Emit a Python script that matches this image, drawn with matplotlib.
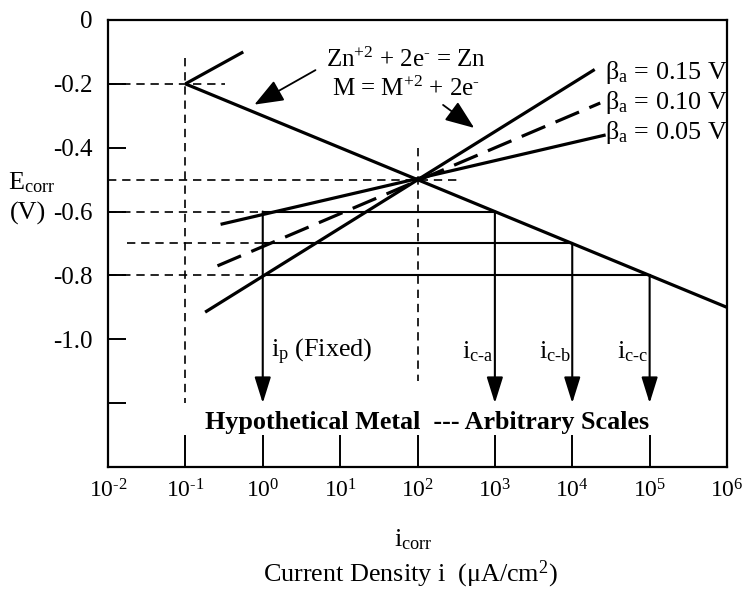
import numpy as np
import matplotlib.pyplot as plt

plt.rcParams['font.family'] = ['Liberation Serif', 'DejaVu Serif']
plt.rcParams['mathtext.fontset'] = 'custom'
plt.rcParams['mathtext.rm'] = 'Liberation Serif'
plt.rcParams['mathtext.it'] = 'Liberation Serif:italic'
plt.rcParams['mathtext.bf'] = 'Liberation Serif:bold'

# Zn reduction line (Zn+2 + 2e- = Zn) and short Zn oxidation branch
zn_cath_i = [1e-1, 1e6]
zn_cath_e = [-0.2, -0.9]
zn_anod_i = [1e-1, 0.56]
zn_anod_e = [-0.2, -0.1]

# metal oxidation lines (M = M+2 + 2e-) for three Tafel slopes
beta_labels = ['0.15', '0.10', '0.05']
beta_i = [[0.18, 1.95e4], [0.26, 2.3e4], [0.285, 2.7e4]]
beta_e = [[-0.915, -0.155], [-0.77, -0.26], [-0.64, -0.36]]
beta_styles = ['-', '--', '-']
beta_label_e = [-0.163, -0.257, -0.352]

# corrosion potentials and currents
e_levels = [-0.6, -0.7, -0.8]
ic_vals = [1e3, 1e4, 1e5]
ic_names = ['c‐a', 'c‐b', 'c‐c']
ip_val = 1e0
i_corr = 1e2
e_corr = -0.5
e_zn = -0.2
i0_zn = 1e-1

xticks = [1e-2, 1e-1, 1e0, 1e1, 1e2, 1e3, 1e4, 1e5, 1e6]
xtick_labels = ['10$^{‐2}$', '10$^{‐1}$', '10$^{0}$', '10$^{1}$', '10$^{2}$',
                '10$^{3}$', '10$^{4}$', '10$^{5}$', '10$^{6}$']
yticks = [0, -0.2, -0.4, -0.6, -0.8, -1.0, -1.2, -1.4]
ytick_labels = ['0', '-0.2', '-0.4', '-0.6', '-0.8', '-1.0', '', '']

fs = 18.8

fig = plt.figure(figsize=(7.42, 5.92), dpi=100)
ax = fig.add_axes([108/742, 1-467/592, (727-108)/742, (467-20)/592])
ax.set_xscale('log')
ax.set_xlim(1e-2, 1e6)
ax.set_ylim(-1.4, 0)

guide = dict(color='k', lw=1.2, ls=(0, (5, 3.5)))

# dashed guide lines
ax.plot([1e-2, 0.33], [e_zn, e_zn], **guide)
ax.plot([i0_zn, i0_zn], [-0.12, -1.2], **guide)
ax.plot([i_corr, i_corr], [-0.4, -1.13], **guide)
ax.plot([1e-2, 340], [e_corr, e_corr], **guide)
ax.plot([1e-2, ip_val], [e_levels[0], e_levels[0]], **guide)
ax.plot([10**-1.75, ip_val], [e_levels[1], e_levels[1]], **guide)
ax.plot([1e-2, ip_val], [e_levels[2], e_levels[2]], **guide)

# solid potential levels up to each corrosion current
for e, ic in zip(e_levels, ic_vals):
    ax.plot([ip_val, ic], [e, e], color='k', lw=1.5)

# Zn lines
ax.plot(zn_cath_i, zn_cath_e, color='k', lw=2.3, solid_capstyle='butt')
ax.plot(zn_anod_i, zn_anod_e, color='k', lw=2.3, solid_capstyle='butt')

# anodic lines
for bi, be, st, lab, le in zip(beta_i, beta_e, beta_styles, beta_labels, beta_label_e):
    if st == '--':
        ax.plot(bi, be, color='k', lw=2.3, ls=(0, (8, 3.5)), dash_capstyle='butt')
    else:
        ax.plot(bi, be, color='k', lw=2.3, solid_capstyle='butt')
    ax.text(10**4.42, le, r'β$_\mathrm{a}$ = ' + lab + ' V', fontsize=fs,
            ha='left', va='center')

# down arrows to current axis
arrow_style = dict(arrowstyle='-|>,head_length=0.8,head_width=0.25',
                   mutation_scale=20, color='k', lw=1.5, shrinkA=0, shrinkB=0)
ax.annotate('', xy=(ip_val, -1.2), xytext=(ip_val, e_levels[0]), arrowprops=arrow_style)
for e, ic, name in zip(e_levels, ic_vals, ic_names):
    ax.annotate('', xy=(ic, -1.2), xytext=(ic, e), arrowprops=arrow_style)
    ax.annotate('i$_\\mathrm{' + name + '}$', xy=(ic, -1.04), xytext=(-1, 0),
                textcoords='offset points', ha='right', va='center', fontsize=fs)
ax.annotate('i$_\\mathrm{p}$ (Fixed)', xy=(ip_val, -1.04), xytext=(6, 0),
            textcoords='offset points', ha='left', va='center', fontsize=fs)

# reaction labels with arrows
ax.text(71, -0.125, 'Zn$^{+2}$ + 2e$^{‐}$ = Zn', fontsize=18, ha='center', va='center')
ax.text(71, -0.215, 'M = M$^{+2}$ + 2e$^{‐}$', fontsize=18, ha='center', va='center')
head = dict(arrowstyle='-|>,head_length=0.9,head_width=0.35', mutation_scale=20,
            color='k', lw=1.3, shrinkA=0, shrinkB=0)
ax.annotate('', xy=(0.78, -0.265), xytext=(4.8, -0.157), arrowprops=head)
ax.annotate('', xy=(540, -0.338), xytext=(214, -0.266), arrowprops=head)

ax.text(10**2.12, -1.262, 'Hypothetical Metal  --- Arbitrary Scales', fontsize=fs,
        fontweight='bold', ha='center', va='center')

# axes styling
ax.set_xticks(xticks)
ax.set_xticklabels(xtick_labels)
ax.set_yticks(yticks)
ax.set_yticklabels(ytick_labels)
ax.minorticks_off()
ax.tick_params(axis='y', direction='in', length=13, width=1.4, pad=11, labelsize=18)
ax.tick_params(axis='x', direction='in', length=23, width=1.4, pad=9, labelsize=17)
for sp in ax.spines.values():
    sp.set_linewidth(1.6)

fig.text(8/742, 1-183/592, 'E$_\\mathrm{corr}$', fontsize=fs, ha='left', va='center')
fig.text(10/742, 1-213/592, '(V)', fontsize=fs, ha='left', va='center')
fig.text(413/742, 1-540/592, 'i$_\\mathrm{corr}$', fontsize=fs, ha='center', va='center')
fig.text(410/742, 1-574/592, 'Current Density i  (μA/cm$^{2}$)', fontsize=fs,
         ha='center', va='center')

fig.savefig('out.png', dpi=100)
